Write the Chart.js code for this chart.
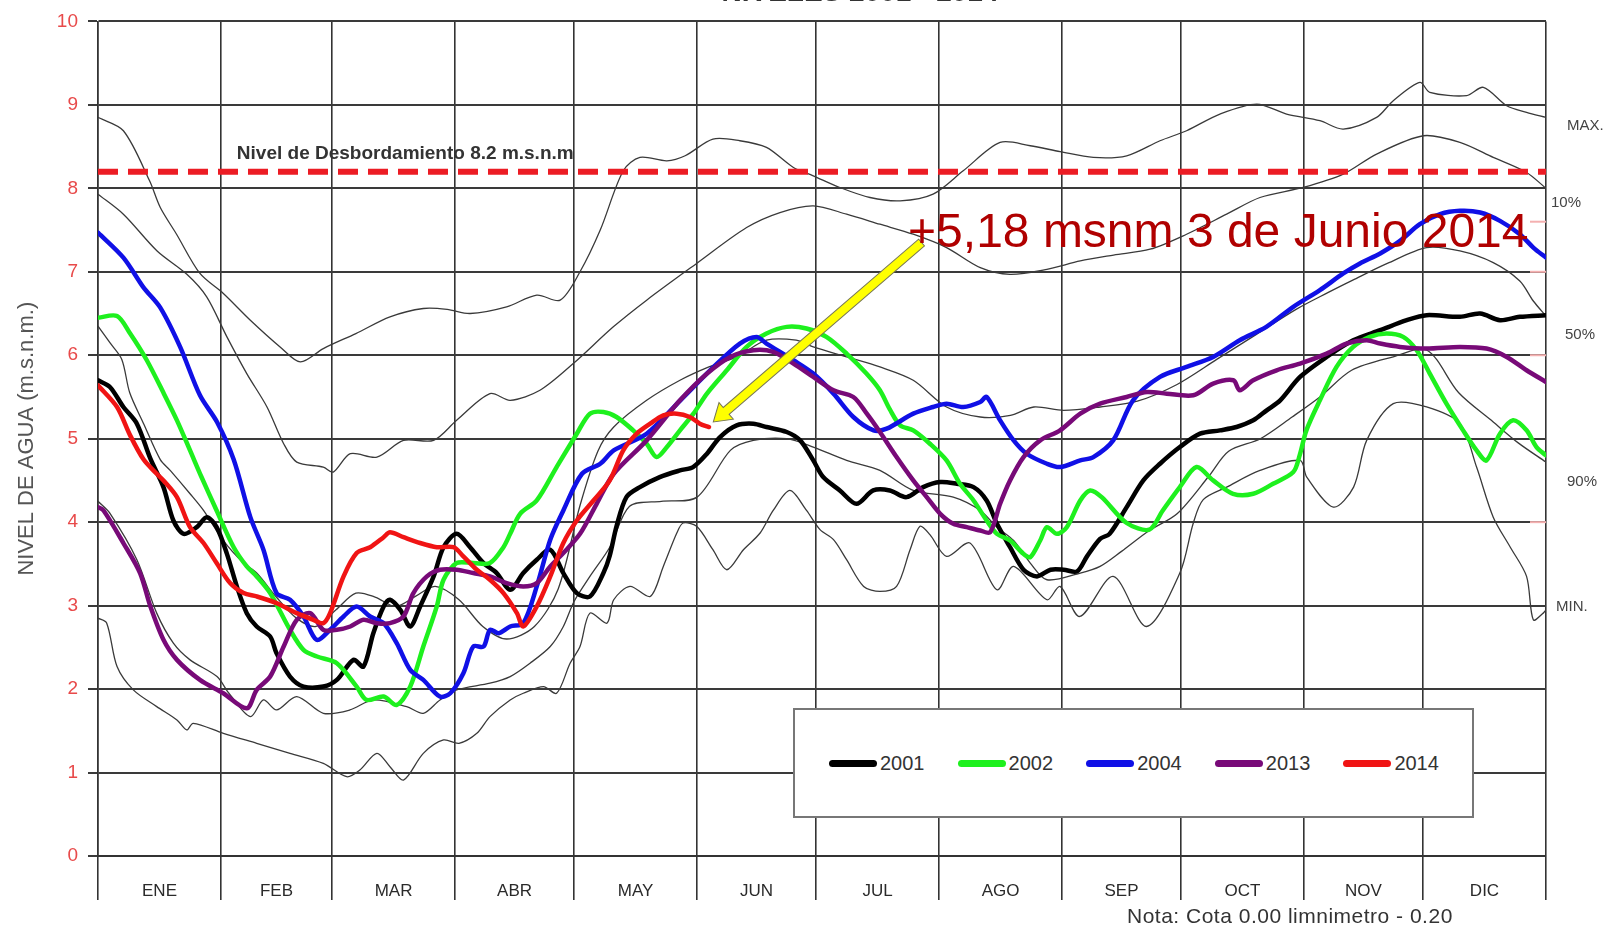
<!DOCTYPE html>
<html>
<head>
<meta charset="utf-8">
<script src="https://cdn.jsdelivr.net/npm/chart.js@4.4.1/dist/chart.umd.min.js"></script>
<style>
  html, body { margin: 0; padding: 0; background: #fff; }
  #marco { position: relative; width: 1614px; height: 930px; overflow: hidden; font-family: 'Liberation Sans', Arial, sans-serif; }
  #grafico { position: absolute; left: 0; top: 0; }
  #titulo { position: absolute; top: -22px; left: 560px; width: 600px; text-align: center; font-weight: bold; font-size: 28px; line-height: 28px; color: #333; }
  #leyenda { position: absolute; left: 793px; top: 708px; width: 681px; height: 110px; box-sizing: border-box; border: 2px solid #777; background: #fff; display: flex; align-items: center; padding-left: 34px; }
  .item { width: 130px; display: flex; align-items: center; font-size: 20px; color: #333; }
  .muestra { display: inline-block; width: 48px; height: 7px; border-radius: 4px; margin-right: 3px; }
  #nota { position: absolute; left: 1127px; top: 904px; font-size: 21px; letter-spacing: 0.5px; color: #333; white-space: nowrap; }
</style>
</head>
<body>
<div id="marco">
  <canvas id="grafico" width="1614" height="930"></canvas>
  <div id="titulo">NIVELES 2001 - 2014</div>
  <div id="leyenda"></div>
  <div id="nota">Nota: Cota 0.00 limnimetro - 0.20</div>
</div>
<script>
// eje x en dias del año, eje y en m.s.n.m.
const meses = ['ENE', 'FEB', 'MAR', 'ABR', 'MAY', 'JUN', 'JUL', 'AGO', 'SEP', 'OCT', 'NOV', 'DIC'];
const limitesMes = [0, 31, 59, 90, 120, 151, 181, 212, 243, 273, 304, 334, 365];

const anios = ['2001', '2002', '2004', '2013', '2014'];

const nivel2001 = [[0,5.70],[3,5.62],[6.4,5.38],[9.8,5.18],[13.2,4.76],[16.5,4.42],[19,4.02],[21.6,3.86],[24.9,3.94],[27.4,4.06],[29.9,3.94],[32.5,3.62],[35,3.23],[37.5,2.91],[40,2.75],[43.4,2.63],[45,2.43],[48.4,2.15],[51.8,2.03],[56.8,2.03],[60.2,2.11],[64.4,2.35],[66.9,2.27],[69.4,2.67],[72,2.99],[73.6,3.07],[76.2,2.95],[78.7,2.75],[81.2,2.99],[84.6,3.35],[87.1,3.70],[90.4,3.86],[93.8,3.70],[97.2,3.51],[100.5,3.39],[103.9,3.19],[107.2,3.39],[110.6,3.55],[114,3.67],[117.3,3.39],[120.7,3.15],[124,3.11],[127.4,3.39],[129,3.6],[130.7,3.95],[133.2,4.30],[136.6,4.42],[141.6,4.54],[146.7,4.62],[150,4.66],[153.5,4.82],[156.8,5.02],[161,5.16],[165.2,5.18],[168.5,5.14],[173.6,5.08],[177,4.98],[180.3,4.74],[182.8,4.54],[187,4.38],[191.2,4.22],[195.4,4.38],[199.6,4.38],[203.8,4.30],[208,4.42],[212.3,4.48],[216.5,4.46],[220.7,4.42],[224,4.26],[226.6,3.98],[229.9,3.70],[233.3,3.43],[236.7,3.35],[240.1,3.43],[243.4,3.43],[246.8,3.41],[249.3,3.59],[252.6,3.80],[255,3.86],[259.3,4.18],[263.5,4.50],[267.7,4.70],[272.7,4.90],[277.8,5.06],[282.8,5.10],[287,5.14],[291.2,5.22],[294.6,5.34],[298,5.46],[303,5.74],[309.7,5.98],[316.4,6.18],[323.2,6.30],[329.9,6.42],[334.9,6.48],[343.3,6.46],[348.4,6.50],[353.4,6.42],[358.4,6.46],[365,6.48]];

const nivel2002 = [[0,6.45],[4.8,6.47],[8.1,6.26],[12.3,5.94],[16.5,5.55],[19.9,5.22],[23.2,4.86],[26,4.55],[29.9,4.14],[34.2,3.70],[37.5,3.47],[40,3.35],[43.4,3.15],[48.4,2.71],[51.8,2.47],[55.2,2.39],[60.2,2.31],[65.2,2.03],[67.7,1.87],[72,1.91],[75.3,1.81],[78.7,2.03],[82,2.51],[85.4,2.99],[87.1,3.31],[90.4,3.51],[94.6,3.51],[98.8,3.51],[102.2,3.70],[103.9,3.86],[106.4,4.10],[110.6,4.26],[115.6,4.66],[120.7,5.06],[124,5.30],[127.4,5.32],[130.7,5.26],[134.9,5.10],[138.3,4.94],[140.8,4.78],[143.4,4.90],[146.7,5.10],[150.1,5.30],[153.5,5.54],[158.5,5.82],[163.5,6.10],[168.5,6.26],[173.6,6.34],[178.6,6.32],[183.6,6.22],[188.7,6.02],[193.7,5.78],[197.1,5.58],[199.6,5.35],[202.2,5.16],[205.5,5.10],[209.7,4.94],[213.9,4.74],[217.3,4.46],[220.7,4.26],[224,4.02],[226.6,3.86],[229.9,3.78],[233.3,3.62],[235,3.58],[237.5,3.78],[239.2,3.94],[241.7,3.86],[244.2,3.94],[247.6,4.26],[250.1,4.38],[253,4.30],[259.3,3.99],[265,3.91],[268.4,4.14],[272.7,4.42],[276.9,4.66],[281.1,4.50],[286.1,4.34],[291.2,4.34],[296.2,4.46],[301.3,4.60],[302.9,4.80],[304.6,5.10],[308,5.46],[312.2,5.86],[316.4,6.10],[320.6,6.22],[324.8,6.26],[329,6.22],[332.4,6.06],[335.7,5.78],[339.9,5.42],[344.1,5.10],[347.5,4.86],[350,4.74],[353.4,5.06],[356.7,5.22],[360.1,5.10],[362.6,4.90],[365,4.80]];

const nivel2004 = [[0,7.47],[6.4,7.17],[11.5,6.81],[15.7,6.57],[20.7,6.10],[25.7,5.52],[30,5.20],[34.2,4.75],[38.4,4.06],[41.7,3.67],[45,3.15],[48.4,3.07],[51.8,2.87],[55.1,2.59],[58.5,2.71],[61.9,2.87],[65.2,2.99],[68.6,2.87],[72,2.79],[75.3,2.55],[78.7,2.23],[82,2.11],[86.2,1.91],[88.8,1.95],[92.1,2.19],[94.6,2.51],[97.2,2.51],[98.8,2.71],[101,2.67],[103.9,2.75],[107.2,2.79],[110.6,3.23],[114,3.79],[117.3,4.14],[122,4.58],[126.6,4.70],[130,4.86],[138.3,5.06],[146.8,5.46],[155.2,5.86],[161.8,6.14],[166,6.22],[168.5,6.14],[175.3,5.94],[180.3,5.78],[185.4,5.54],[190.4,5.26],[195.5,5.10],[198.8,5.12],[205.5,5.30],[210.5,5.38],[213.9,5.42],[218.1,5.38],[222.4,5.44],[224,5.50],[227.4,5.22],[230.8,4.98],[234.1,4.82],[239.2,4.70],[242.5,4.66],[247.6,4.74],[250.9,4.78],[255.9,4.98],[260.9,5.46],[267.7,5.74],[274.4,5.86],[281.1,5.98],[287.8,6.18],[294.5,6.34],[301.3,6.58],[308,6.78],[313.9,6.98],[318.1,7.10],[323.2,7.22],[328.2,7.37],[333.2,7.57],[338.3,7.69],[343.3,7.73],[348.4,7.71],[353.4,7.61],[358.4,7.45],[361.8,7.29],[365,7.17]];

const nivel2013 = [[0,4.18],[1.4,4.14],[6.4,3.75],[10.6,3.39],[13.2,2.99],[16.5,2.59],[19.9,2.35],[25.7,2.11],[31.6,1.95],[37.5,1.77],[40,1.99],[43.4,2.15],[46.8,2.51],[50.1,2.83],[53.5,2.91],[56.8,2.71],[60.2,2.71],[63.6,2.75],[66.9,2.83],[70.3,2.79],[73.6,2.79],[77,2.87],[79.5,3.15],[82.9,3.35],[86.2,3.43],[90.4,3.43],[94.6,3.39],[98.8,3.35],[103,3.27],[107.2,3.23],[110.6,3.27],[114,3.47],[117.3,3.63],[121.5,3.86],[125.7,4.22],[130,4.58],[138.3,4.98],[146.7,5.46],[153.5,5.78],[159.4,5.98],[165.2,6.06],[170.2,6.04],[175.3,5.90],[180.3,5.74],[185.4,5.58],[190.4,5.50],[193.8,5.30],[197.1,5.08],[201.3,4.78],[205.5,4.50],[208.9,4.30],[212.3,4.10],[215.6,3.98],[219,3.94],[222.4,3.90],[224.9,3.88],[227.4,4.22],[229.9,4.50],[233.3,4.78],[237.5,4.98],[242.5,5.10],[247.6,5.30],[252.6,5.42],[259.3,5.50],[264.4,5.56],[269.4,5.54],[276.1,5.52],[281.1,5.66],[286.2,5.70],[287.8,5.58],[291.2,5.70],[297.1,5.82],[303,5.90],[309.7,6.02],[314.7,6.14],[319.8,6.18],[323.2,6.14],[328.2,6.10],[334.9,6.08],[343.3,6.10],[350,6.08],[355.1,5.98],[360.1,5.82],[365,5.68]];

const nivel2014 = [[0,5.64],[4.8,5.38],[8.1,5.04],[11.5,4.75],[14.8,4.58],[16.5,4.50],[19.9,4.30],[23.2,3.94],[26.6,3.75],[29.9,3.51],[33.3,3.27],[36.7,3.15],[40,3.11],[45,3.03],[50.1,2.91],[54.3,2.83],[56.8,2.79],[58.5,2.91],[61.9,3.35],[65.2,3.63],[68.6,3.70],[72,3.82],[73.6,3.88],[77,3.82],[81.2,3.75],[85.4,3.70],[89.6,3.70],[92.1,3.59],[95.5,3.43],[98.8,3.31],[102.2,3.15],[105.6,2.91],[107.2,2.75],[110.6,2.99],[114,3.35],[117.3,3.75],[120.7,4.02],[124.9,4.26],[129,4.50],[132.4,4.86],[135.8,5.06],[139.2,5.18],[142.5,5.28],[145.9,5.30],[149.2,5.26],[151.7,5.18],[154,5.14]];

// curvas de referencia (lineas finas)
const curvaMax = [[0,8.85],[6.4,8.69],[13,8.09],[15.7,7.77],[19.8,7.45],[25.7,6.98],[31.6,6.74],[38.4,6.42],[45.9,6.10],[51,5.92],[56.8,6.08],[65,6.26],[73.6,6.46],[82,6.56],[88,6.55],[93.8,6.50],[103,6.58],[110.6,6.72],[116.5,6.66],[121.5,7.0],[126.6,7.5],[132.4,8.21],[136.6,8.37],[143.4,8.33],[148,8.39],[155,8.59],[161.8,8.57],[168.5,8.49],[175.3,8.25],[180.3,8.15],[187,8.01],[194.6,7.89],[202.2,7.85],[210.5,7.93],[218.1,8.21],[227.4,8.55],[235,8.51],[242.5,8.44],[250.9,8.37],[259.3,8.39],[267.7,8.57],[274.4,8.69],[282.8,8.89],[292.1,9.01],[299.6,8.89],[308,8.81],[313.9,8.71],[322.3,8.85],[326.5,9.05],[333.2,9.27],[335.7,9.15],[345,9.11],[349.2,9.21],[355.1,8.99],[360.1,8.91],[365,8.85]];

const curva10 = [[0,7.93],[6.4,7.69],[14.9,7.25],[22.4,6.97],[27.4,6.70],[32.5,6.22],[37.5,5.78],[42.6,5.38],[46.8,4.94],[50.1,4.72],[56.8,4.66],[59.3,4.60],[63.6,4.82],[70.3,4.78],[77,4.98],[84.6,4.98],[90.4,5.22],[98.8,5.54],[103.9,5.46],[111.4,5.58],[119.8,5.90],[129.9,6.34],[138.3,6.66],[150.9,7.10],[163.5,7.53],[171.9,7.71],[180.3,7.79],[188.7,7.69],[197.1,7.57],[205.5,7.45],[213.9,7.29],[222.4,7.05],[229.9,6.97],[239.2,7.03],[247.6,7.13],[256,7.20],[265.2,7.27],[274.4,7.45],[284.5,7.69],[292.9,7.89],[303.8,8.01],[313.9,8.17],[322.3,8.41],[334.1,8.63],[343.3,8.55],[351.7,8.37],[360.1,8.19],[365,8.0]];

const curva50 = [[0,6.35],[3,6.15],[6,5.95],[8,5.55],[11.5,5.18],[15.7,4.75],[18.2,4.62],[23.2,4.34],[26.6,4.14],[31.6,3.78],[36.7,3.51],[40,3.39],[45,3.10],[50,2.85],[55,2.75],[60,2.95],[65,3.15],[70,3.10],[75,2.99],[80,3.11],[85,3.23],[91,3.07],[97,2.75],[103,2.60],[110,2.75],[116,3.20],[121.5,4.20],[126,4.85],[130,5.14],[138.3,5.46],[146.7,5.70],[154,5.86],[161,5.98],[168.5,6.18],[176,6.18],[180.3,6.10],[188.7,5.98],[197.1,5.86],[205.5,5.70],[213.9,5.38],[222.4,5.26],[230,5.28],[235.9,5.38],[243.4,5.34],[252.6,5.38],[262,5.45],[272,5.65],[282,5.95],[292,6.25],[302,6.55],[310,6.75],[316.3,6.90],[325,7.10],[334.9,7.29],[343.3,7.25],[351.7,7.11],[358.4,6.89],[361.8,6.65],[365,6.47]];

const curva90 = [[0,4.25],[3.1,4.10],[9.8,3.55],[14.8,2.91],[19,2.55],[23.2,2.35],[30,2.15],[33,1.95],[38.4,1.67],[41.7,1.87],[45,1.75],[50.1,1.91],[56.8,1.71],[63.5,1.75],[69.4,1.87],[77.8,1.79],[82,1.71],[86.2,1.87],[90.4,1.99],[98.8,2.07],[103.9,2.15],[108.9,2.31],[114,2.51],[117.3,2.75],[120,3.05],[124,3.35],[129,3.70],[134,4.19],[142,4.25],[151,4.30],[159.4,4.86],[165.2,4.98],[173.6,5.00],[180.3,4.90],[188.7,4.74],[197.1,4.62],[205.5,4.38],[215.6,4.30],[222.4,4.14],[226.6,3.94],[230.8,3.78],[235,3.51],[239.2,3.31],[247.6,3.39],[252.6,3.47],[258,3.65],[265,3.90],[272,4.10],[280,4.55],[285,4.85],[293,5.00],[301,5.26],[308,5.50],[316,5.82],[326.5,5.98],[335,6.06],[343,5.55],[351.7,5.20],[358,4.95],[365,4.72]];

const curvaMin = [[0,2.85],[2.2,2.79],[4.8,2.27],[8.9,1.99],[14.8,1.79],[19.9,1.63],[22.4,1.51],[24,1.59],[31.6,1.47],[40,1.35],[48.4,1.23],[56.8,1.11],[62.7,0.95],[66,1.03],[70.3,1.23],[73.6,1.07],[77,0.91],[82,1.23],[87.1,1.39],[91,1.35],[95.5,1.47],[98.8,1.67],[103.9,1.87],[107.2,1.95],[112.3,2.03],[115.6,1.95],[119,2.31],[121.5,2.51],[124,2.91],[128.3,2.79],[130,3.07],[134.1,3.23],[139.2,3.11],[142.5,3.47],[145.9,3.87],[147.5,3.99],[150.9,3.95],[155,3.67],[158.5,3.43],[162.7,3.67],[166.9,3.87],[170.2,4.14],[174.4,4.38],[178.6,4.14],[182,3.91],[185.4,3.79],[188.7,3.55],[193,3.23],[197.1,3.17],[201.3,3.23],[204.7,3.67],[207.2,3.95],[209.7,3.85],[213.9,3.59],[219.8,3.75],[226.6,3.19],[230.8,3.47],[239.2,3.07],[242.5,3.23],[247.5,2.87],[255.9,3.35],[264.3,2.75],[272.7,3.39],[276.1,3.99],[278.6,4.27],[284.5,4.42],[292.9,4.62],[303,4.74],[304.7,4.54],[311.4,4.18],[316.5,4.42],[319.8,4.98],[326.5,5.42],[334.9,5.38],[343.3,5.18],[347.5,4.66],[351.7,4.06],[356,3.70],[360.1,3.35],[361.8,2.83],[364.3,2.91],[365,2.95]];

const nivelDesborde = 8.2;
const etiquetasCurvas = ['MAX.', '10%', '50%', '90%', 'MIN.'];
const nivelEtiquetas = [8.75, 7.83, 6.24, 4.48, 2.98];
const marcasDerecha = [7.6, 7, 6, 4];
const puntaFlecha = [155.1, 5.2];
const colaFlecha = [207.6, 7.35];
const textoNota = '+5,18 msnm 3 de Junio 2014';
const textoDesborde = 'Nivel de Desbordamiento 8.2 m.s.n.m';

const coloresAnio = ['#000000', '#1ef01e', '#1010e6', '#780a78', '#f01414'];
const seriesAnio = [nivel2001, nivel2002, nivel2004, nivel2013, nivel2014];
const curvas = [curvaMax, curva10, curva50, curva90, curvaMin];

const centrosMes = meses.map((m, i) => (limitesMes[i] + limitesMes[i + 1]) / 2);
const valoresTick = [...limitesMes, ...centrosMes].sort((a, b) => a - b);

const aPuntos = serie => serie.map(([x, y]) => ({ x, y }));

const datasets = [];
seriesAnio.forEach((serie, i) => {
    datasets.push({
        label: anios[i],
        data: aPuntos(serie),
        borderColor: coloresAnio[i],
        borderWidth: 4.5,
        tension: 0.3,
        borderJoinStyle: 'round',
        borderCapStyle: 'round',
        order: 5 - i
    });
});
curvas.forEach((curva, i) => {
    datasets.push({
        label: etiquetasCurvas[i],
        data: aPuntos(curva),
        borderColor: '#3a3a3a',
        borderWidth: 1.3,
        tension: 0.3,
        order: 10
    });
});
datasets.push({
    label: 'desborde',
    data: [{ x: 0, y: nivelDesborde }, { x: 365, y: nivelDesborde }],
    borderColor: '#ec1c24',
    borderWidth: 6,
    borderDash: [20, 10],
    order: 8
});

function dibujarFlecha(ctx, x0, y0, x1, y1) {
    const ang = Math.atan2(y1 - y0, x1 - x0);
    const largo = Math.hypot(x1 - x0, y1 - y0);
    const w = 4.5, hw = 11, hl = 17;
    ctx.save();
    ctx.translate(x0, y0);
    ctx.rotate(ang);
    ctx.beginPath();
    ctx.moveTo(0, -w);
    ctx.lineTo(largo - hl, -w);
    ctx.lineTo(largo - hl, -hw);
    ctx.lineTo(largo, 0);
    ctx.lineTo(largo - hl, hw);
    ctx.lineTo(largo - hl, w);
    ctx.lineTo(0, w);
    ctx.closePath();
    ctx.fillStyle = '#ffff00';
    ctx.fill();
    ctx.strokeStyle = '#777755';
    ctx.lineWidth = 1;
    ctx.stroke();
    ctx.restore();
}

const anotaciones = {
    id: 'anotaciones',
    afterDatasetsDraw(chart) {
        const { ctx, chartArea } = chart;
        const x = chart.scales.x, y = chart.scales.y;
        ctx.save();

        ctx.font = 'bold 19px "Liberation Sans", Arial, sans-serif';
        ctx.fillStyle = '#333';
        ctx.textBaseline = 'middle';
        ctx.fillText(textoDesborde, x.getPixelForValue(35), y.getPixelForValue(8.42));

        ctx.strokeStyle = '#f4b0b0';
        ctx.lineWidth = 2;
        marcasDerecha.forEach(v => {
            const py = y.getPixelForValue(v);
            ctx.beginPath();
            ctx.moveTo(chartArea.right - 16, py);
            ctx.lineTo(chartArea.right, py);
            ctx.stroke();
        });

        dibujarFlecha(ctx,
            x.getPixelForValue(colaFlecha[0]), y.getPixelForValue(colaFlecha[1]),
            x.getPixelForValue(puntaFlecha[0]), y.getPixelForValue(puntaFlecha[1]));

        ctx.font = '48px "Liberation Sans", Arial, sans-serif';
        ctx.fillStyle = '#b00000';
        ctx.textBaseline = 'alphabetic';
        ctx.fillText(textoNota, x.getPixelForValue(204.2), y.getPixelForValue(7.30));

        ctx.font = '15px "Liberation Sans", Arial, sans-serif';
        ctx.fillStyle = '#444';
        ctx.textBaseline = 'middle';
        const desplaz = [21, 5, 19, 21, 10];
        etiquetasCurvas.forEach((t, i) => {
            ctx.fillText(t, chartArea.right + desplaz[i], y.getPixelForValue(nivelEtiquetas[i]));
        });
        ctx.restore();
    }
};

Chart.defaults.font.family = '"Liberation Sans", Arial, sans-serif';

new Chart(document.getElementById('grafico'), {
    type: 'line',
    data: { datasets },
    options: {
        responsive: false,
        animation: false,
        layout: { padding: { top: 20, right: 68, left: 0, bottom: 0 } },
        elements: { point: { radius: 0 } },
        plugins: { legend: { display: false }, tooltip: { enabled: false } },
        scales: {
            x: {
                type: 'linear',
                min: 0,
                max: 365,
                afterBuildTicks: scale => { scale.ticks = valoresTick.map(v => ({ value: v })); },
                afterFit: scale => { scale.height = 74; },
                grid: {
                    color: c => (c.tick && limitesMes.includes(c.tick.value)) ? '#333' : 'rgba(0,0,0,0)',
                    lineWidth: 1.6,
                    tickLength: 44
                },
                border: { display: true, color: '#333', width: 2 },
                ticks: {
                    autoSkip: false,
                    maxRotation: 0,
                    padding: -19,
                    color: '#2a2a2a',
                    font: { size: 17 },
                    callback: v => {
                        const i = centrosMes.indexOf(v);
                        return i >= 0 ? meses[i] : '';
                    }
                }
            },
            y: {
                min: 0,
                max: 10,
                afterFit: scale => { scale.width = 98; },
                ticks: { stepSize: 1, color: '#e84a4a', padding: 10, font: { size: 19 } },
                grid: { color: '#3a3a3a', lineWidth: 2, tickLength: 10 },
                border: { color: '#333', width: 1.5 },
                title: {
                    display: true,
                    text: 'NIVEL DE AGUA (m.s.n.m.)',
                    color: '#555',
                    font: { size: 22 },
                    padding: { top: 14, bottom: 0 }
                }
            }
        }
    },
    plugins: [anotaciones]
});

// leyenda en html
const leyenda = document.getElementById('leyenda');
anios.forEach((a, i) => {
    const item = document.createElement('div');
    item.className = 'item';
    item.innerHTML = '<span class="muestra" style="background:' + coloresAnio[i] + '"></span>' + a;
    leyenda.appendChild(item);
});
</script>
</body>
</html>
